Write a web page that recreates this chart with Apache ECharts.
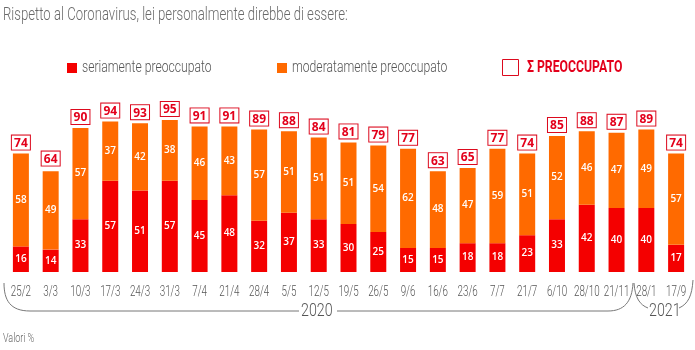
<!DOCTYPE html>
<html><head><meta charset="utf-8">
<script src="https://cdn.jsdelivr.net/npm/echarts@6/dist/echarts.min.js"></script>
<style>html,body{margin:0;padding:0;background:#fff}#c{width:695px;height:350px}</style>
</head><body><div id="c"></div>
<script>
const categories = ['25/2','3/3','10/3','17/3','24/3','31/3','7/4','21/4','28/4','5/5','12/5','19/5','26/5','9/6','16/6','23/6','7/7','21/7','6/10','28/10','21/11','28/1','17/9'];
const seriamente = [16,14,33,57,51,57,45,48,32,37,33,30,25,15,15,18,18,23,33,42,40,40,17];
const moderatamente = [58,49,57,37,42,38,46,43,57,51,51,51,54,62,48,47,59,51,52,46,47,49,57];
const totale = [74,64,90,94,93,95,91,91,89,88,84,81,79,77,63,65,77,74,85,88,87,89,74];

const RED = '#f40000', ORANGE = '#ff6a00', BOXRED = '#dc0a1e';

function ntext(x, y, text, size, color, sx, weight, align) {
  return {type: 'text', x: x, y: y, scaleX: sx, originX: 0, originY: 0, z: 10,
    style: {text: text, fontFamily: 'Roboto', fontSize: size, fontWeight: weight || 300, fill: color,
      textAlign: align || 'left', textVerticalAlign: 'middle'}};
}

const graphics = [
  ntext(3, 15, 'Rispetto al Coronavirus, lei personalmente direbbe di essere:', 18, '#6a6a6a', 0.73),
  {type: 'rect', shape: {x: 67, y: 63, width: 10, height: 10}, style: {fill: RED}},
  ntext(82, 68, 'seriamente preoccupato', 16, '#555', 0.76),
  {type: 'rect', shape: {x: 277, y: 63, width: 10, height: 10}, style: {fill: ORANGE}},
  ntext(292, 68, 'moderatamente preoccupato', 16, '#555', 0.76),
  {type: 'rect', shape: {x: 502.5, y: 59.5, width: 16, height: 16}, style: {fill: '#fff', stroke: BOXRED, lineWidth: 1}},
  ntext(527, 68, 'Σ PREOCCUPATO', 17, '#e3001b', 0.72, 700),
  {type: 'bezierCurve', shape: {x1: 4, y1: 283, cpx1: 4, cpy1: 300, cpx2: 10, cpy2: 311, x2: 30, y2: 311}, style: {stroke: '#777', lineWidth: 1, fill: null}},
  {type: 'line', shape: {x1: 30, y1: 311, x2: 299, y2: 311}, style: {stroke: '#777', lineWidth: 1}},
  {type: 'line', shape: {x1: 337, y1: 311, x2: 608, y2: 311}, style: {stroke: '#777', lineWidth: 1}},
  {type: 'bezierCurve', shape: {x1: 608, y1: 311, cpx1: 624, cpy1: 311, cpx2: 632, cpy2: 302, x2: 633, y2: 283}, style: {stroke: '#777', lineWidth: 1, fill: null}},
  {type: 'bezierCurve', shape: {x1: 634, y1: 283, cpx1: 635, cpy1: 298, cpx2: 640, cpy2: 305, x2: 648, y2: 308}, style: {stroke: '#777', lineWidth: 1, fill: null}},
  {type: 'bezierCurve', shape: {x1: 679, y1: 308, cpx1: 688, cpy1: 304, cpx2: 692, cpy2: 296, x2: 693, y2: 280}, style: {stroke: '#777', lineWidth: 1, fill: null}},
  ntext(301, 311, '2020', 19, '#555', 0.75),
  ntext(649, 311, '2021', 19, '#555', 0.75),
  ntext(3, 339, 'Valori %', 12, '#666', 0.75)
];

const chart = echarts.init(document.getElementById('c'));
const option = {
  animation: false,
  legend: {show: false, data: ['seriamente preoccupato', 'moderatamente preoccupato', 'Σ PREOCCUPATO']},
  grid: {left: 6, right: 4, top: 112, bottom: 78},
  xAxis: {type: 'category', data: categories,
    axisLine: {show: false}, axisTick: {show: false}, axisLabel: {show: false}},
  yAxis: {type: 'value', min: 0, max: 100, show: false, splitLine: {show: false}},
  series: [
    {name: 'seriamente preoccupato', type: 'bar', stack: 's', data: seriamente, barWidth: 16, barGap: '-100%',
     itemStyle: {color: RED},
     label: {show: true, position: 'inside', color: '#fff', fontFamily: 'Open Sans', fontWeight: 600, fontSize: 10}},
    {name: 'moderatamente preoccupato', type: 'bar', stack: 's', data: moderatamente, barWidth: 16, barGap: '-100%',
     itemStyle: {color: ORANGE},
     label: {show: true, position: 'inside', color: '#fff', fontFamily: 'Open Sans', fontWeight: 600, fontSize: 10}},
    {name: 'Σ PREOCCUPATO', type: 'bar', data: totale, barWidth: 16, barGap: '-100%', z: 1, silent: true,
     itemStyle: {color: 'rgba(0,0,0,0)'},
     label: {show: true, position: 'top', distance: 4, color: '#e3001b', fontFamily: 'Open Sans', fontWeight: 700,
       fontSize: 12, backgroundColor: '#fff', borderColor: BOXRED, borderWidth: 1, padding: [2, 2, 0, 2], width: 14, align: 'center'}}
  ],
  graphic: graphics
};
chart.setOption(option);
// category labels (condensed look) placed through the axis scale
const labelY = chart.convertToPixel({yAxisIndex: 0}, 0) + 20;
const catLabels = categories.map(c => ntext(chart.convertToPixel({xAxisIndex: 0}, c), labelY, c, 14, '#555', 0.7, 300, 'center'));
chart.setOption({graphic: graphics.concat(catLabels)});
</script></body></html>
